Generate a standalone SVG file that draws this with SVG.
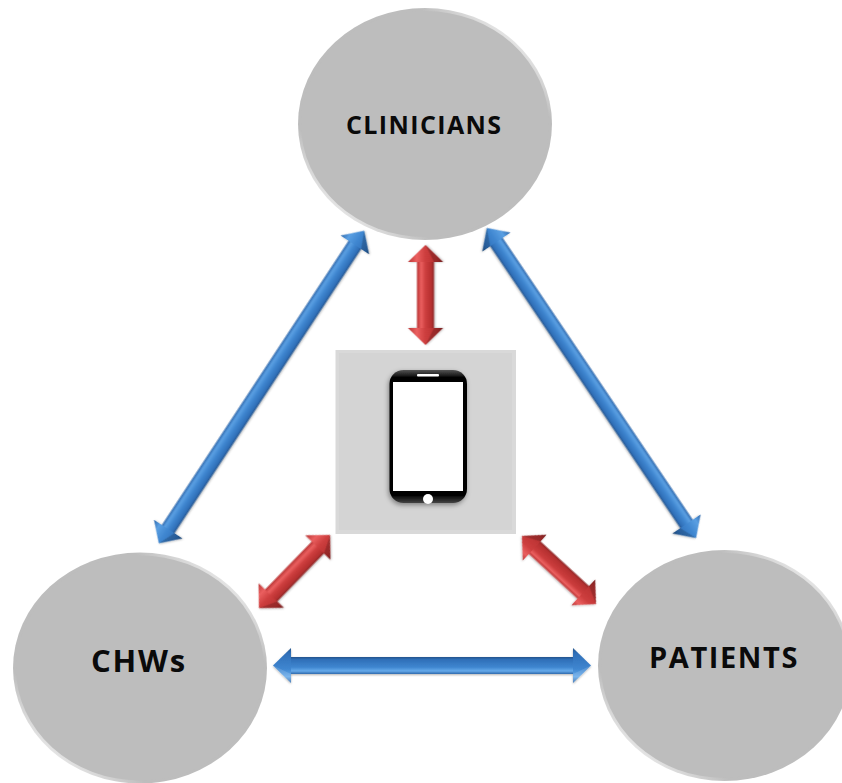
<svg xmlns="http://www.w3.org/2000/svg" width="842" height="783" viewBox="0 0 842 783">
<style>
.disc{fill:#bdbdbd}
.lbl{font-family:"Open Sans","Noto Sans",sans-serif;font-weight:700;fill:#0a0a0a}
.arrow{filter:url(#sh)}
.fd{fill:#000;opacity:.18}
.fl{fill:#fff;opacity:.14}
</style>
<defs>
<linearGradient id="rim" x1=".85" y1=".12" x2=".15" y2=".88">
<stop offset="0" stop-color="#e8e8e8"/><stop offset=".16" stop-color="#bdbdbd"/><stop offset=".84" stop-color="#bdbdbd"/><stop offset="1" stop-color="#e8e8e8"/>
</linearGradient>
<linearGradient id="bA" x1="0" y1="0" x2="0" y2="1"><stop offset="0" stop-color="#2f69ad"/><stop offset=".22" stop-color="#5a9fe2"/><stop offset=".5" stop-color="#3f86d0"/><stop offset=".85" stop-color="#2f6fb8"/><stop offset="1" stop-color="#24548c"/></linearGradient>
<linearGradient id="bB" x1="0" y1="0" x2="0" y2="1"><stop offset="0" stop-color="#24548c"/><stop offset=".15" stop-color="#2f6fb8"/><stop offset=".6" stop-color="#3f86d0"/><stop offset=".82" stop-color="#66aaea"/><stop offset="1" stop-color="#2f69ad"/></linearGradient>
<linearGradient id="rA" x1="0" y1="0" x2="0" y2="1"><stop offset="0" stop-color="#b93434"/><stop offset=".25" stop-color="#ea5f5f"/><stop offset=".5" stop-color="#cc3d3d"/><stop offset=".85" stop-color="#b53030"/><stop offset="1" stop-color="#8c2626"/></linearGradient>
<linearGradient id="rB" x1="0" y1="0" x2="0" y2="1"><stop offset="0" stop-color="#8c2626"/><stop offset=".15" stop-color="#b53030"/><stop offset=".6" stop-color="#cc3d3d"/><stop offset=".82" stop-color="#ea5f5f"/><stop offset="1" stop-color="#b93434"/></linearGradient>
<linearGradient id="sheen" x1="0" y1="0" x2="0" y2="1"><stop offset="0" stop-color="#555"/><stop offset=".06" stop-color="#000"/><stop offset=".94" stop-color="#000"/><stop offset="1" stop-color="#444"/></linearGradient>
<filter id="sh" x="-10%" y="-30%" width="120%" height="160%"><feDropShadow dx="0" dy="1" stdDeviation="1" flood-color="#000" flood-opacity=".3"/></filter>
<filter id="psh" x="-15%" y="-15%" width="130%" height="130%"><feDropShadow dx="-1" dy="2" stdDeviation="2.5" flood-color="#000" flood-opacity=".4"/></filter>
</defs>
<rect width="842" height="783" fill="#fff"/>

<g id="clinicians">
<ellipse cx="425" cy="124" rx="127" ry="116" fill="url(#rim)"/>
<ellipse class="disc" cx="425" cy="124" rx="124" ry="113"/>
<text class="lbl" x="346" y="134" font-size="25" letter-spacing="1.4">CLINICIANS</text>
</g>
<g id="chws">
<ellipse cx="140" cy="668" rx="127" ry="115.5" fill="url(#rim)"/>
<ellipse class="disc" cx="140" cy="668" rx="124" ry="112.5"/>
<text class="lbl" x="91" y="672" font-size="31" letter-spacing="1.8">CHWs</text>
</g>
<g id="patients">
<ellipse cx="724.5" cy="665.5" rx="126.5" ry="115.5" fill="url(#rim)"/>
<ellipse class="disc" cx="724.5" cy="665.5" rx="123.5" ry="112.5"/>
<text class="lbl" x="649" y="668" font-size="29" letter-spacing="1.6">PATIENTS</text>
</g>
<g id="phone-panel">
<rect x="335.5" y="350" width="180.5" height="184" fill="#d9d9d9"/>
<rect x="339" y="353" width="173" height="177" fill="#d4d4d4"/>
<rect x="389.5" y="370" width="77.5" height="133" rx="14" fill="url(#sheen)" filter="url(#psh)"/>
<rect x="393" y="382" width="70" height="109" fill="#fff"/>
<rect x="417" y="374" width="22" height="2.5" rx="1" fill="#fff"/>
<circle cx="428" cy="499" r="5" fill="#fff"/>
</g>

<g id="connectors">
<g class="arrow" transform="translate(261.5 387) rotate(-56.7)">
<rect x="-172" y="-7.5" width="344" height="15" fill="url(#bA)"/>
<polygon points="187,0 170,-17 170,17" fill="url(#bA)"/><polygon class="fd" points="187,0 170,17 170,7.5"/>
<polygon points="-187,0 -170,-17 -170,17" fill="url(#bA)"/><polygon class="fd" points="-187,0 -170,17 -170,7.5"/>
</g>
<g class="arrow" transform="translate(591.5 383) rotate(56)">
<rect x="-172" y="-7.5" width="344" height="15" fill="url(#bA)"/>
<polygon points="187,0 170,-17 170,17" fill="url(#bA)"/><polygon class="fd" points="187,0 170,17 170,7.5"/>
<polygon points="-187,0 -170,-17 -170,17" fill="url(#bA)"/><polygon class="fd" points="-187,0 -170,17 -170,7.5"/>
</g>
<g class="arrow" transform="translate(432 665.5)">
<rect x="-143" y="-8.5" width="286" height="17" fill="url(#bB)"/>
<polygon points="159,0 141,-17.5 141,17.5" fill="url(#bB)"/><polygon class="fl" points="159,0 141,17.5 141,8.5"/>
<polygon points="-159,0 -141,-17.5 -141,17.5" fill="url(#bB)"/><polygon class="fl" points="-159,0 -141,17.5 -141,8.5"/>
</g>
<g class="arrow" transform="translate(425.5 295) rotate(-90)">
<rect x="-35" y="-8.5" width="70" height="17" fill="url(#rA)"/>
<polygon points="50,0 33,-17.5 33,17.5" fill="url(#rA)"/><polygon class="fd" points="50,0 33,17.5 33,8.5"/>
<polygon points="-50,0 -33,-17.5 -33,17.5" fill="url(#rA)"/><polygon class="fd" points="-50,0 -33,17.5 -33,8.5"/>
</g>
<g class="arrow" transform="translate(294.5 571.5) rotate(-45.8)">
<rect x="-36" y="-8.5" width="72" height="17" fill="url(#rA)"/>
<polygon points="51,0 33.5,-17.5 33.5,17.5" fill="url(#rA)"/><polygon class="fd" points="51,0 33.5,17.5 33.5,8.5"/>
<polygon points="-51,0 -33.5,-17.5 -33.5,17.5" fill="url(#rA)"/><polygon class="fd" points="-51,0 -33.5,17.5 -33.5,8.5"/>
</g>
<g class="arrow" transform="translate(559 570) rotate(42.6)">
<rect x="-36" y="-8.5" width="72" height="17" fill="url(#rB)"/>
<polygon points="50.3,0 33,-17.5 33,17.5" fill="url(#rB)"/><polygon class="fd" points="50.3,0 33,-17.5 33,-8.5"/>
<polygon points="-50.3,0 -33,-17.5 -33,17.5" fill="url(#rB)"/><polygon class="fd" points="-50.3,0 -33,-17.5 -33,-8.5"/>
</g>
</g>
</svg>
